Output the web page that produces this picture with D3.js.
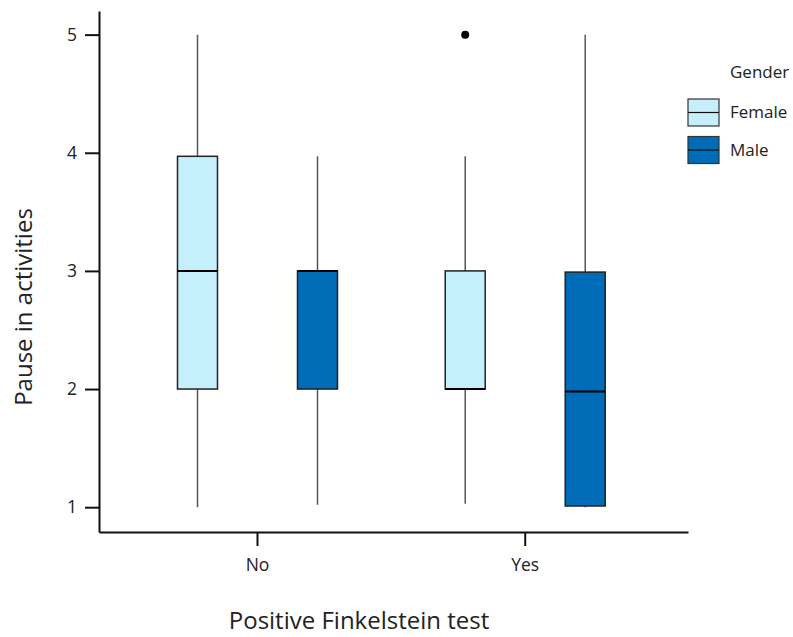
<!DOCTYPE html>
<html>
<head>
<meta charset="utf-8">
<script src="https://cdn.jsdelivr.net/npm/d3@7"></script>
<style>
  body { margin: 0; background: #fff; }
  svg { font-family: "Open Sans", Lato, sans-serif; }
</style>
</head>
<body>
<svg id="chart" width="793" height="637"></svg>
<script>
  // data
  const groups = ["No", "Yes"];
  const genders = ["Female", "Male"];
  const boxGroup = ["No", "No", "Yes", "Yes"];
  const boxGender = ["Female", "Male", "Female", "Male"];
  const whiskerLow = [1.0, 1.02, 1.03, 1.0];
  const q1 = [2.0, 2.0, 2.0, 1.01];
  const median = [3.0, 3.0, 2.0, 1.98];
  const q3 = [3.97, 3.0, 3.0, 2.99];
  const whiskerHigh = [5.0, 3.97, 3.97, 5.0];
  const outliers = [{ group: "Yes", gender: "Female", value: 5 }];
  const yTicks = [1, 2, 3, 4, 5];

  const colors = { Female: "#c6effc", Male: "#006bb6" };

  const margin = { top: 11, right: 105, bottom: 105, left: 99 };
  const width = 793 - margin.left - margin.right,
    height = 637 - margin.top - margin.bottom;

  const svg = d3.select("#chart");
  const g = svg
    .append("g")
    .attr("transform", `translate(${margin.left},${margin.top})`);

  const x = d3
    .scaleBand()
    .domain(groups)
    .range([0, width])
    .paddingInner(0.2)
    .paddingOuter(0.2)
    .align(0.48);

  // offset of each gender from the group centre
  const xSub = d3.scalePoint().domain(genders).range([-60, 60]);
  const boxWidth = 40;

  const y = d3.scaleLinear().domain([0.79, 5.2]).range([height, 0]);

  const cx = (grp, gen) => x(grp) + x.bandwidth() / 2 + xSub(gen);

  // axes
  const yAxis = g
    .append("g")
    .call(
      d3
        .axisLeft(y)
        .tickValues(yTicks)
        .tickFormat(d3.format("d"))
        .tickSize(14)
        .tickSizeOuter(0)
        .tickPadding(8)
    );
  const xAxis = g
    .append("g")
    .attr("transform", `translate(0,${height})`)
    .call(d3.axisBottom(x).tickSize(14).tickSizeOuter(0).tickPadding(13));

  [yAxis, xAxis].forEach((a) => {
    a.select(".domain").attr("stroke", "#111").attr("stroke-width", 2);
    a.selectAll(".tick line").attr("stroke", "#111").attr("stroke-width", 2);
    a.selectAll(".tick text")
      .attr("fill", "#222")
      .style("font-family", '"Open Sans", sans-serif')
      .style("font-size", "17.5px");
  });

  const boxes = d3.range(boxGroup.length).map((i) => ({
    group: boxGroup[i],
    gender: boxGender[i],
    lo: whiskerLow[i],
    q1: q1[i],
    med: median[i],
    q3: q3[i],
    hi: whiskerHigh[i],
  }));

  const box = g.selectAll(".box").data(boxes).enter().append("g").attr("class", "box");

  // whiskers
  box
    .append("line")
    .attr("x1", (d) => cx(d.group, d.gender))
    .attr("x2", (d) => cx(d.group, d.gender))
    .attr("y1", (d) => y(d.lo))
    .attr("y2", (d) => y(d.hi))
    .attr("stroke", "#555")
    .attr("stroke-width", 1.5);

  box
    .append("rect")
    .attr("x", (d) => cx(d.group, d.gender) - boxWidth / 2)
    .attr("width", boxWidth)
    .attr("y", (d) => y(d.q3))
    .attr("height", (d) => y(d.q1) - y(d.q3))
    .attr("fill", (d) => colors[d.gender])
    .attr("stroke", "#222")
    .attr("stroke-width", 1.5);

  box
    .append("line")
    .attr("x1", (d) => cx(d.group, d.gender) - boxWidth / 2)
    .attr("x2", (d) => cx(d.group, d.gender) + boxWidth / 2)
    .attr("y1", (d) => y(d.med))
    .attr("y2", (d) => y(d.med))
    .attr("stroke", "#000")
    .attr("stroke-width", 2);

  g.selectAll(".outlier")
    .data(outliers)
    .enter()
    .append("circle")
    .attr("cx", (d) => cx(d.group, d.gender))
    .attr("cy", (d) => y(d.value))
    .attr("r", 4)
    .attr("fill", "#000");

  // axis titles
  svg
    .append("text")
    .attr("x", 359)
    .attr("y", 629)
    .attr("text-anchor", "middle")
    .attr("fill", "#222")
    .style("font-size", "24px")
    .text("Positive Finkelstein test");

  svg
    .append("text")
    .attr("transform", "translate(32,307) rotate(-90)")
    .attr("text-anchor", "middle")
    .attr("fill", "#222")
    .style("font-size", "24px")
    .text("Pause in activities");

  // legend
  const legend = svg.append("g").attr("transform", "translate(688,0)");
  legend
    .append("text")
    .attr("x", 42)
    .attr("y", 78)
    .attr("fill", "#222")
    .style("font-size", "17px")
    .text("Gender");

  const item = legend
    .selectAll(".item")
    .data(genders)
    .enter()
    .append("g")
    .attr("transform", (d, i) => `translate(0,${99 + i * 37.5})`);

  item
    .append("rect")
    .attr("width", 31)
    .attr("height", 27)
    .attr("fill", (d) => colors[d])
    .attr("stroke", "#333")
    .attr("stroke-width", 1.2);
  item
    .append("line")
    .attr("x2", 31)
    .attr("y1", 13.5)
    .attr("y2", 13.5)
    .attr("stroke", "#111")
    .attr("stroke-width", 1.2);
  item
    .append("text")
    .attr("x", 42)
    .attr("y", 19)
    .attr("fill", "#222")
    .style("font-size", "17px")
    .text((d) => d);
</script>
</body>
</html>
